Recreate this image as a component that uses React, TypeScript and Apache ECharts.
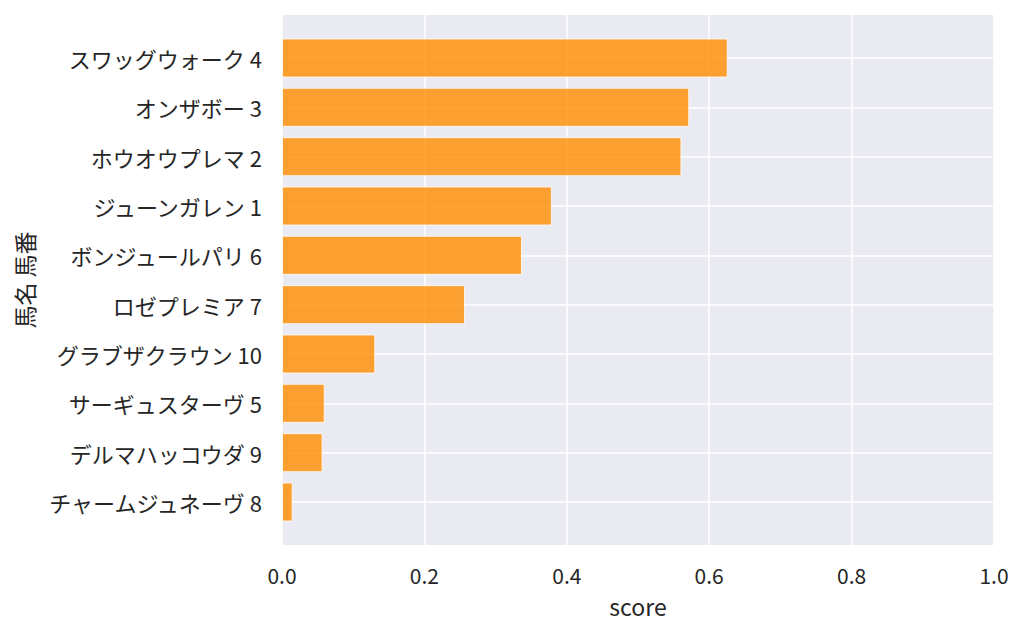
import React, { useEffect, useRef } from "react";
import * as echarts from "echarts";

const horses = [
  "スワッグウォーク 4",
  "オンザボー 3",
  "ホウオウプレマ 2",
  "ジューンガレン 1",
  "ボンジュールパリ 6",
  "ロゼプレミア 7",
  "グラブザクラウン 10",
  "サーギュスターヴ 5",
  "デルマハッコウダ 9",
  "チャームジュネーヴ 8",
];
const scores = [0.626, 0.572, 0.561, 0.379, 0.337, 0.257, 0.131, 0.06, 0.057, 0.015];
const xTicks = { min: 0, max: 1, interval: 0.2 };

const FONT = "'Noto Sans CJK JP', 'Noto Sans', sans-serif";
const TEXT = "#262626";

export default function App() {
  const ref = useRef<HTMLDivElement>(null);
  useEffect(() => {
    if (!ref.current) return;
    const chart = echarts.init(ref.current, undefined, { renderer: "svg" });
    chart.setOption({
      animation: false,
      backgroundColor: "#ffffff",
      textStyle: { fontFamily: FONT, color: TEXT },
      grid: [
        { left: 282, top: 15, width: 712, height: 530, show: true, backgroundColor: "#EAEAF2", borderWidth: 0 },
        { left: 282, top: 58, width: 712, height: 444, show: false },
      ],
      xAxis: [
        {
          gridIndex: 0,
          type: "value",
          min: xTicks.min,
          max: xTicks.max,
          interval: xTicks.interval,
          axisLine: { show: false },
          axisTick: { show: false },
          axisLabel: {
            fontFamily: FONT,
            fontSize: 21,
            color: TEXT,
            margin: 19,
            formatter: (v: number) => v.toFixed(1),
          },
          splitLine: { show: true, lineStyle: { color: "#ffffff", width: 1.5 } },
          name: "score",
          nameLocation: "middle",
          nameGap: 49,
          nameTextStyle: { fontFamily: FONT, fontSize: 23, color: TEXT },
        },
        {
          gridIndex: 1,
          type: "value",
          min: xTicks.min,
          max: xTicks.max,
          show: false,
        },
      ],
      yAxis: [
        { gridIndex: 0, type: "value", min: 0, max: 1, show: false },
        {
          gridIndex: 1,
          type: "category",
          data: horses,
          inverse: true,
          boundaryGap: false,
          axisLine: { show: false },
          axisTick: { show: false },
          axisLabel: { fontFamily: FONT, fontSize: 22, color: TEXT, margin: 20 },
          splitLine: { show: true, lineStyle: { color: "#ffffff", width: 1.5 } },
          name: "馬名 馬番",
          nameLocation: "middle",
          nameRotate: 90,
          nameGap: 245,
          nameTextStyle: { fontFamily: FONT, fontSize: 23, color: TEXT },
        },
      ],
      series: [
        {
          type: "bar",
          xAxisIndex: 1,
          yAxisIndex: 1,
          data: scores,
          barWidth: 39,
          clip: false,
          itemStyle: {
            color: "rgba(255,140,0,0.8)",
            borderColor: "rgba(255,255,255,0.8)",
            borderWidth: 1,
          },
        },
      ],
    });
    return () => chart.dispose();
  }, []);
  return (
    <div
      ref={ref}
      style={{ position: "fixed", left: 0, top: 0, width: 1024, height: 635 }}
    />
  );
}
